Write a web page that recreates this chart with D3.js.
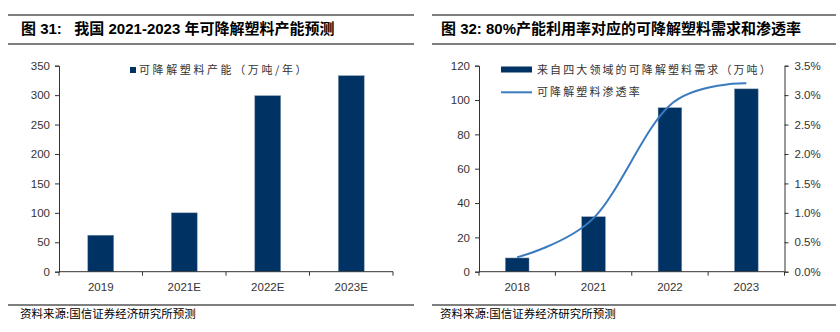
<!DOCTYPE html>
<html><head><meta charset="utf-8">
<script src="https://cdn.jsdelivr.net/npm/d3@7"></script>
<style>
html,body{margin:0;padding:0;background:#fff;}
svg{display:block;}
</style></head>
<body>
<svg id="c" width="840" height="332"></svg>
<script>
// ---- data ----
const leftCategories = ["2019", "2021E", "2022E", "2023E"];
const leftCapacity = [62, 100, 299, 333];
const leftTicks = [0, 50, 100, 150, 200, 250, 300, 350];

const rightCategories = ["2018", "2021", "2022", "2023"];
const rightDemand = [8, 32, 95.5, 106.5];
const rightPenetration = [0.245, 0.91, 2.83, 3.2];
const rightTicks = [0, 20, 40, 60, 80, 100, 120];
const rightPctTicks = [0, 0.5, 1.0, 1.5, 2.0, 2.5, 3.0, 3.5];

const leftTitle = "图 31:   我国 2021-2023 年可降解塑料产能预测";
const rightTitle = "图 32: 80%产能利用率对应的可降解塑料需求和渗透率";
const leftLegend = "可降解塑料产能（万吨/年）";
const rightLegendBar = "来自四大领域的可降解塑料需求（万吨）";
const rightLegendLine = "可降解塑料渗透率";
const source = "资料来源:国信证券经济研究所预测";

// ---- styles ----
const barColor = "#003263";
const barEdge = "#7f95b0";
const lineColor = "#3a7bc0";
const axisColor = "#333";
const labelFont = "'Liberation Sans', Arial, sans-serif";
const cjkFont = "'Noto Sans CJK SC', sans-serif";

const svg = d3.select("#c");

function header(x0, x1, tx, title) {
  svg.append("line").attr("x1", x0).attr("x2", x1).attr("y1", 15).attr("y2", 15)
    .attr("stroke", "#000").attr("stroke-width", 1.2);
  svg.append("line").attr("x1", x0).attr("x2", x1).attr("y1", 44).attr("y2", 44)
    .attr("stroke", "#000").attr("stroke-width", 1.2);
  svg.append("text").attr("x", tx).attr("y", 34).attr("xml:space", "preserve")
    .style("font-family", "'Liberation Sans', 'Noto Sans CJK SC', sans-serif")
    .style("font-weight", "bold").style("font-size", "15px").attr("fill", "#000").text(title);
  svg.append("line").attr("x1", x0).attr("x2", x1).attr("y1", 305).attr("y2", 305)
    .attr("stroke", "#000").attr("stroke-width", 1.2);
  svg.append("text").attr("x", tx - 1).attr("y", 317.5)
    .style("font-family", cjkFont).style("font-size", "11.5px").attr("fill", "#000").text(source);
}

header(8, 414, 21, leftTitle);
header(432, 836, 441, rightTitle);

function xAxisWithBoundaryTicks(g, x, y0) {
  const [r0, r1] = x.range();
  g.append("line").attr("x1", r0).attr("x2", r1).attr("y1", y0).attr("y2", y0)
    .attr("stroke", axisColor).attr("stroke-width", 1);
  const n = x.domain().length;
  const step = (r1 - r0) / n;
  d3.range(n + 1).forEach(i => {
    g.append("line").attr("x1", r0 + i * step).attr("x2", r0 + i * step)
      .attr("y1", y0).attr("y2", y0 + 4).attr("stroke", axisColor);
  });
  x.domain().forEach(d => {
    g.append("text").attr("x", x(d) + x.bandwidth() / 2).attr("y", y0 + 19)
      .attr("text-anchor", "middle").style("font-family", labelFont)
      .style("font-size", "11.5px").attr("fill", axisColor).text(d);
  });
}

function styleAxis(g) {
  g.selectAll("path").attr("stroke", axisColor);
  g.selectAll("line").attr("stroke", axisColor);
  g.selectAll("text").style("font-family", labelFont).style("font-size", "11.5px").attr("fill", axisColor);
}

// ---- left chart ----
{
  const x = d3.scaleBand().domain(leftCategories).range([59, 393]).paddingInner(0.69).paddingOuter(0.345);
  const y = d3.scaleLinear().domain([0, 350]).range([271.7, 65.7]);
  const g = svg.append("g");
  g.selectAll("rect.bar").data(leftCapacity).enter().append("rect")
    .attr("x", (d, i) => x(leftCategories[i])).attr("width", x.bandwidth())
    .attr("y", d => y(d)).attr("height", d => y(0) - y(d)).attr("fill", barColor)
    .attr("stroke", barEdge).attr("stroke-width", 0.5);
  const ya = g.append("g").attr("transform", "translate(59,0)")
    .call(d3.axisLeft(y).tickValues(leftTicks).tickSize(4).tickSizeOuter(4).tickPadding(5));
  styleAxis(ya);
  xAxisWithBoundaryTicks(g, x, 271.7);
  g.append("rect").attr("x", 130).attr("y", 67).attr("width", 6).attr("height", 6).attr("fill", barColor);
  g.append("text").attr("x", 139).attr("y", 74).style("font-family", cjkFont)
    .style("font-size", "11px").style("letter-spacing", "2.6px").attr("fill", "#333").text(leftLegend);
}

// ---- right chart ----
{
  const x = d3.scaleBand().domain(rightCategories).range([479, 784.5]).paddingInner(0.69).paddingOuter(0.345);
  const y = d3.scaleLinear().domain([0, 120]).range([271.7, 65.7]);
  const y2 = d3.scaleLinear().domain([0, 3.5]).range([271.7, 65.7]);
  const g = svg.append("g");
  g.selectAll("rect.bar").data(rightDemand).enter().append("rect")
    .attr("x", (d, i) => x(rightCategories[i])).attr("width", x.bandwidth())
    .attr("y", d => y(d)).attr("height", d => y(0) - y(d)).attr("fill", barColor)
    .attr("stroke", barEdge).attr("stroke-width", 0.5);
  const line = d3.line()
    .x((d, i) => x(rightCategories[i]) + x.bandwidth() / 2)
    .y(d => y2(d))
    .curve(d3.curveCatmullRom.alpha(0));
  g.append("path").datum(rightPenetration).attr("d", line)
    .attr("fill", "none").attr("stroke", lineColor).attr("stroke-width", 2);
  const ya = g.append("g").attr("transform", "translate(479,0)")
    .call(d3.axisLeft(y).tickValues(rightTicks).tickSize(4).tickSizeOuter(4).tickPadding(5));
  styleAxis(ya);
  const yb = g.append("g").attr("transform", "translate(784.5,0)")
    .call(d3.axisRight(y2).tickValues(rightPctTicks).tickSize(4).tickSizeOuter(4).tickPadding(6)
      .tickFormat(d => d3.format(".1f")(d) + "%"));
  styleAxis(yb);
  xAxisWithBoundaryTicks(g, x, 271.7);
  g.append("rect").attr("x", 501).attr("y", 66.5).attr("width", 31).attr("height", 6).attr("fill", barColor);
  g.append("text").attr("x", 537).attr("y", 74).style("font-family", cjkFont)
    .style("font-size", "11px").style("letter-spacing", "2.1px").attr("fill", "#333").text(rightLegendBar);
  g.append("line").attr("x1", 501).attr("x2", 532).attr("y1", 92.3).attr("y2", 92.3)
    .attr("stroke", lineColor).attr("stroke-width", 2);
  g.append("text").attr("x", 537).attr("y", 96).style("font-family", cjkFont)
    .style("font-size", "11px").style("letter-spacing", "2.1px").attr("fill", "#333").text(rightLegendLine);
}
</script>
</body></html>
